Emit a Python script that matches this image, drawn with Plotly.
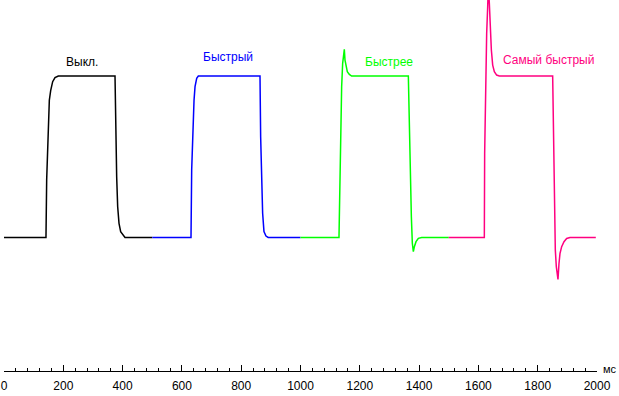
import plotly.graph_objects as go

# Response curves (time in ms, level in % of plateau)
off_t = [0, 141.6, 143.9, 147.3, 152.9, 157.4, 164.1, 172.0, 183.2, 374.4, 376.6, 380.0, 383.4, 387.9, 393.5, 400.3, 408.1, 500]
off_v = [0, 0, 35.6, 60.0, 85.0, 91.0, 96.5, 99.0, 100, 100, 68.6, 37.6, 19.0, 8.8, 3.6, 1.5, 0, 0]

fast_t = [500, 630.7, 633.0, 636.4, 640.9, 644.3, 649.9, 655.4, 863.4, 865.6, 869.0, 872.3, 876.8, 883.6, 891.0, 1000]
fast_v = [0, 0, 41.8, 68.6, 85.0, 93.4, 98.6, 100, 100, 62.4, 31.5, 15.0, 3.6, 0.9, 0, 0]

faster_t = [1000, 1129.8, 1132.0, 1135.5, 1138.8, 1142.2, 1145.6, 1147.8, 1150.1, 1153.4, 1157.9, 1164.7, 1172.5,
            1363.7, 1367.0, 1370.5, 1373.9, 1377.2, 1380.6, 1384.0, 1389.6, 1397.5, 1408.8, 1500]
faster_v = [0, 0, 23.0, 66.6, 93.4, 107.9, 116.1, 116.5, 109.9, 105.8, 102.7, 101.0, 100,
            100, 66.6, 37.6, 12.9, -3.6, -8.8, -5.7, -2.6, -0.5, 0, 0]

fastest_t = [1500, 1620.0, 1621.1, 1624.5, 1627.9, 1631.3, 1633.5, 1636.9, 1640.3, 1643.7, 1648.2, 1653.8, 1661.6, 1670.6,
             1850.5, 1852.7, 1856.1, 1859.4, 1862.8, 1866.2, 1868.4, 1871.8, 1875.2, 1880.8, 1888.7, 1897.7, 1909.0, 1996]
fastest_v = [0, 0, 52.1, 99.6, 126.4, 142.9, 156.0, 145.0, 128.5, 116.1, 106.8, 102.7, 100.6, 100,
             100, 64.5, 15.0, -7.7, -18.1, -25.3, -26.0, -16.1, -9.9, -5.7, -2.6, -0.6, 0, 0]

series_names = ["Выкл.", "Быстрый", "Быстрее", "Самый быстрый"]
series_colors = ["#000000", "#0000FF", "#00FF00", "#FF0080"]
label_t = [263, 755, 1299, 1835]
label_v = [108.9, 111.6, 108.5, 109.9]

tick_vals = [0, 200, 400, 600, 800, 1000, 1200, 1400, 1600, 1800, 2000]
tick_text = [str(v) for v in tick_vals]

fig = go.Figure()
for (t, v), name, color in zip([(off_t, off_v), (fast_t, fast_v), (faster_t, faster_v), (fastest_t, fastest_v)],
                               series_names, series_colors):
    fig.add_trace(go.Scatter(x=t, y=v, mode="lines", name=name,
                             line=dict(color=color, width=1.5), showlegend=False))

for name, color, lt, lv in zip(series_names, series_colors, label_t, label_v):
    fig.add_annotation(x=lt, y=lv, text=name, showarrow=False,
                       font=dict(family="Liberation Sans, Arial", size=12, color=color))

fig.add_annotation(xref="paper", yref="paper", x=1.0, y=0.0, xanchor="left", yanchor="middle",
                   xshift=4, yshift=2, text="мс", showarrow=False,
                   font=dict(family="Liberation Sans, Arial", size=11, color="#000000"))

fig.update_layout(
    width=619, height=396,
    margin=dict(l=4, r=22, t=0, b=25, autoexpand=False),
    paper_bgcolor="white", plot_bgcolor="white",
    font=dict(family="Liberation Sans, Arial", size=12, color="#000000"),
    xaxis=dict(range=[0, 2000], showgrid=False, zeroline=False, automargin=False,
               showline=True, linecolor="#000000", linewidth=1,
               ticks="inside", ticklen=6, tickcolor="#000000", tickwidth=1,
               tickvals=tick_vals, ticktext=tick_text, ticklabelstandoff=4,
               minor=dict(ticks="inside", ticklen=3, dtick=40, tickcolor="#000000", tickwidth=1, showgrid=False),
               tickfont=dict(size=12, color="#000000")),
    yaxis=dict(range=[-82.7, 147.1], visible=False, automargin=False),
)

fig.write_html("out.html", config={"displayModeBar": False},
               post_script="document.body.style.margin='0';document.body.style.padding='0';document.body.style.overflow='hidden';")
